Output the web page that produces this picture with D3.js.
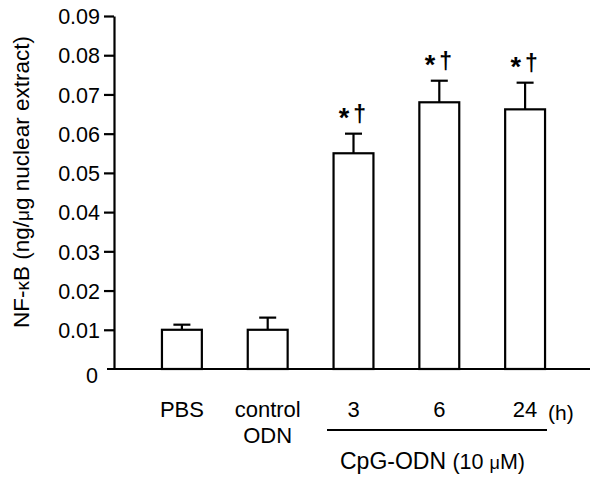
<!DOCTYPE html>
<html>
<head>
<meta charset="utf-8">
<script src="https://d3js.org/d3.v7.min.js"></script>
<style>
  body { margin: 0; background: #fff; }
  text { font-family: Arial, "Liberation Sans", Helvetica, sans-serif; fill: #000; }
  .axis path, .axis line { stroke: #000; stroke-width: 2.2px; }
  .axis text { font-size: 21.5px; }
</style>
</head>
<body>
<svg width="600" height="487"></svg>
<script>
var categories = ["PBS", "control", "3", "6", "24"];
var values = [0.0100, 0.0100, 0.0550, 0.0680, 0.0662];
var errors = [0.0013, 0.0031, 0.0050, 0.0055, 0.0068];
var marks = [false, false, true, true, true];
var yTicks = [0, 0.01, 0.02, 0.03, 0.04, 0.05, 0.06, 0.07, 0.08, 0.09];

var svg = d3.select("svg");

var x = d3.scaleBand()
  .domain(categories)
  .range([139, 568])
  .paddingInner(0.535)
  .paddingOuter(0.2675);

var y = d3.scaleLinear()
  .domain([0, 0.09])
  .range([369, 16]);

// y axis
svg.append("g")
  .attr("class", "axis")
  .attr("transform", "translate(114,0)")
  .call(d3.axisLeft(y)
    .tickValues(yTicks)
    .tickSize(10)
    .tickSizeOuter(0)
    .tickPadding(4)
    .tickFormat(function(d) { return d === 0 ? "0" : d3.format(".2f")(d); }))
  .call(function(g) {
    g.selectAll(".tick text").attr("dy", "0.36em");
    g.select(".tick:first-of-type line").remove();
    g.select(".tick:first-of-type text").attr("dy", "0.62em").attr("x", -16);
  });

// x axis line
svg.append("line")
  .attr("x1", 107).attr("x2", 590)
  .attr("y1", y(0)).attr("y2", y(0))
  .attr("stroke", "#000").attr("stroke-width", 2.2);

// bars
var bars = svg.append("g").selectAll("g")
  .data(categories)
  .enter()
  .append("g");

bars.append("line")
  .attr("x1", function(d) { return x(d) + x.bandwidth() / 2; })
  .attr("x2", function(d) { return x(d) + x.bandwidth() / 2; })
  .attr("y1", function(d, i) { return y(values[i]); })
  .attr("y2", function(d, i) { return y(values[i] + errors[i]); })
  .attr("stroke", "#000").attr("stroke-width", 2.2);

bars.append("line")
  .attr("x1", function(d) { return x(d) + x.bandwidth() / 2 - 8.5; })
  .attr("x2", function(d) { return x(d) + x.bandwidth() / 2 + 8.5; })
  .attr("y1", function(d, i) { return y(values[i] + errors[i]); })
  .attr("y2", function(d, i) { return y(values[i] + errors[i]); })
  .attr("stroke", "#000").attr("stroke-width", 2.2);

bars.append("rect")
  .attr("x", function(d) { return x(d); })
  .attr("width", x.bandwidth())
  .attr("y", function(d, i) { return y(values[i]); })
  .attr("height", function(d, i) { return y(0) - y(values[i]); })
  .attr("fill", "#fff")
  .attr("stroke", "#000")
  .attr("stroke-width", 2.2);

// significance marks: asterisk and dagger
var sig = bars.filter(function(d, i) { return marks[i]; })
  .append("text")
  .attr("x", function(d) { return x(d) + x.bandwidth() / 2 - 1; })
  .attr("y", function(d) { var i = categories.indexOf(d); return y(values[i] + errors[i]) - 12; })
  .attr("text-anchor", "middle")
  .style("font-size", "23px")
  .style("font-weight", "bold");
sig.append("tspan").attr("dy", 5).style("font-size", "27px").text("*");
sig.append("tspan").attr("dy", -5).attr("dx", 4).text("†");

// category labels
var labelY = 417;
svg.append("g").selectAll("text")
  .data(categories)
  .enter()
  .append("text")
  .attr("x", function(d) { return x(d) + x.bandwidth() / 2; })
  .attr("y", labelY)
  .attr("text-anchor", "middle")
  .style("font-size", "22px")
  .text(function(d) { return d; });

svg.append("text")
  .attr("x", x("control") + x.bandwidth() / 2)
  .attr("y", labelY + 26)
  .attr("text-anchor", "middle")
  .style("font-size", "22px")
  .text("ODN");

svg.append("text")
  .attr("x", 548)
  .attr("y", labelY + 3)
  .style("font-size", "21px")
  .text("(h)");

// CpG-ODN group line
svg.append("line")
  .attr("x1", 327).attr("x2", 547)
  .attr("y1", 430).attr("y2", 430)
  .attr("stroke", "#000").attr("stroke-width", 2.2);

var cpg = svg.append("text")
  .attr("x", 340)
  .attr("y", 469)
  .style("font-size", "23px");
cpg.append("tspan").text("CpG-ODN ");
cpg.append("tspan").style("font-size", "21.5px").text("(10 ");
cpg.append("tspan").style("font-size", "18px").text("μ");
cpg.append("tspan").style("font-size", "21.5px").text("M)");

// y axis title
var yt = svg.append("text")
  .attr("transform", "translate(29,182) rotate(-90)")
  .attr("text-anchor", "middle")
  .style("font-size", "22.5px");
yt.append("tspan").text("NF-");
yt.append("tspan").style("font-size", "19px").text("κ");
yt.append("tspan").text("B (ng/");
yt.append("tspan").style("font-size", "19px").text("μ");
yt.append("tspan").text("g nuclear extract)");
</script>
</body>
</html>
